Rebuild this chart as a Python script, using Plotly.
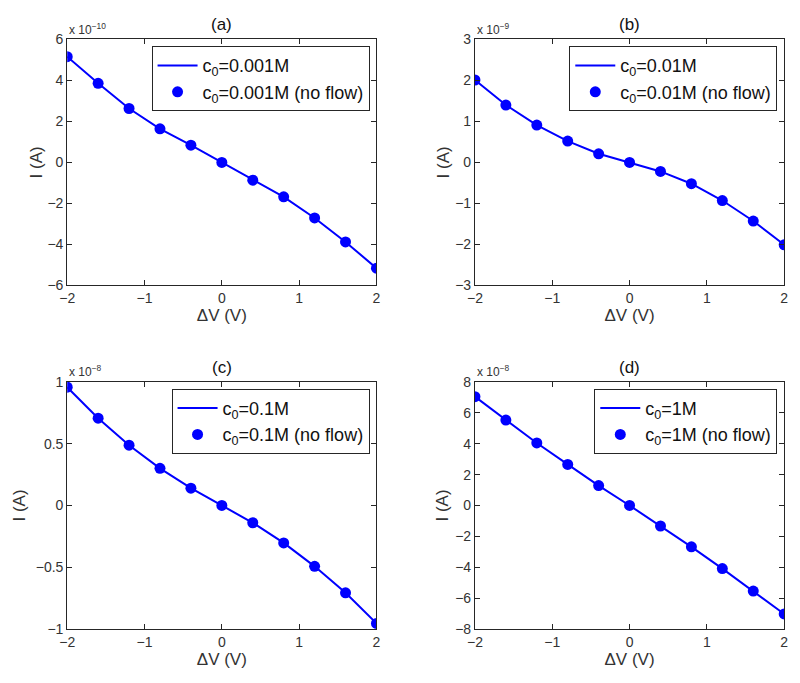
import plotly.graph_objects as go

# ---------------- data ----------------
dV = [-2.0, -1.6, -1.2, -0.8, -0.4, 0.0, 0.4, 0.8, 1.2, 1.6, 2.0]

# mantissas (current = value * 10**exponent A)
I_a_flow   = [5.16, 3.86, 2.63, 1.64, 0.84, 0.0, -0.87, -1.68, -2.71, -3.88, -5.16]
I_a_noflow = [5.16, 3.86, 2.63, 1.64, 0.84, 0.0, -0.87, -1.68, -2.71, -3.88, -5.16]
I_b_flow   = [2.01, 1.40, 0.91, 0.52, 0.21, 0.0, -0.22, -0.52, -0.93, -1.43, -2.01]
I_b_noflow = [2.01, 1.40, 0.91, 0.52, 0.21, 0.0, -0.22, -0.52, -0.93, -1.43, -2.01]
I_c_flow   = [0.958, 0.707, 0.488, 0.301, 0.140, 0.0, -0.140, -0.303, -0.493, -0.707, -0.955]
I_c_noflow = [0.958, 0.707, 0.488, 0.301, 0.140, 0.0, -0.140, -0.303, -0.493, -0.707, -0.955]
I_d_flow   = [7.05, 5.53, 4.05, 2.66, 1.29, 0.0, -1.33, -2.68, -4.09, -5.55, -7.03]
I_d_noflow = [7.05, 5.53, 4.05, 2.66, 1.29, 0.0, -1.33, -2.68, -4.09, -5.55, -7.03]

panel_titles = ["(a)", "(b)", "(c)", "(d)"]
concentrations = ["0.001M", "0.01M", "0.1M", "1M"]
exponents = [-10, -9, -8, -8]
y_ranges = [[-6, 6], [-3, 3], [-1, 1], [-8, 8]]
y_ticks = [[-6, -4, -2, 0, 2, 4, 6],
           [-3, -2, -1, 0, 1, 2, 3],
           [-1, -0.5, 0, 0.5, 1],
           [-8, -6, -4, -2, 0, 2, 4, 6, 8]]
y_ticktext = [["−6", "−4", "−2", "0", "2", "4", "6"],
              ["−3", "−2", "−1", "0", "1", "2", "3"],
              ["−1", "−0.5", "0", "0.5", "1"],
              ["−8", "−6", "−4", "−2", "0", "2", "4", "6", "8"]]
x_ticks = [-2, -1, 0, 1, 2]
x_ticktext = ["−2", "−1", "0", "1", "2"]

flows = [I_a_flow, I_b_flow, I_c_flow, I_d_flow]
noflows = [I_a_noflow, I_b_noflow, I_c_noflow, I_d_noflow]

# ---------------- layout geometry (page pixels) ----------------
# the page body keeps its default 8px margin, so the figure is sized to fill
# exactly the 800x683 window from (8, 8)
OFF = 8
W, H = 800 - OFF, 683 - 2 * OFF
# plot boxes in page pixels: left, right, top, bottom
boxes = [(60, 374, 32, 284), (474, 788, 32, 284),
         (60, 374, 383, 636), (474, 788, 383, 636)]
ytitle_standoff = [0, 1, 5, 2]


def px(x):
    return (x - OFF) / W


def py(y):
    return 1 - (y - OFF) / H


BLUE = "#0000ff"
AX = "#262626"
TXT = "#333333"
FONT = "Liberation Sans, Arial, Helvetica, sans-serif"

fig = go.Figure()
layout = dict(
    width=W, height=H,
    margin=dict(l=0, r=0, t=0, b=0),
    paper_bgcolor="white", plot_bgcolor="white",
    font=dict(family=FONT, color=TXT, size=14),
    annotations=[],
)

for k in range(4):
    sfx = "" if k == 0 else str(k + 1)
    xa, ya = "x" + sfx, "y" + sfx
    leg = "legend" + sfx
    l, r, t, b = boxes[k]
    fig.add_trace(go.Scatter(
        x=dV, y=flows[k], mode="lines",
        line=dict(color=BLUE, width=2),
        name="c<sub>0</sub>=" + concentrations[k],
        legendgroup="g%d_flow" % k,
        xaxis=xa, yaxis=ya, legend=leg))
    fig.add_trace(go.Scatter(
        x=dV, y=noflows[k], mode="markers",
        marker=dict(color=BLUE, size=11, symbol="circle"),
        name="c<sub>0</sub>=" + concentrations[k] + " (no flow)",
        legendgroup="g%d_noflow" % k,
        xaxis=xa, yaxis=ya, legend=leg))

    axis_common = dict(
        showline=True, linecolor=AX, linewidth=1, mirror="allticks",
        ticks="inside", ticklen=5, tickwidth=1, tickcolor=AX,
        showgrid=False, zeroline=False,
        tickfont=dict(size=14, color=TXT, family=FONT),
    )
    layout["xaxis" + sfx] = dict(
        axis_common,
        domain=[px(l), px(r)], anchor=ya, range=[-2, 2],
        tickvals=x_ticks, ticktext=x_ticktext,
        title=dict(text="ΔV (V)", font=dict(size=17, color=TXT, family=FONT), standoff=2),
    )
    layout["yaxis" + sfx] = dict(
        axis_common,
        domain=[py(b), py(t)], anchor=xa, range=y_ranges[k],
        tickvals=y_ticks[k], ticktext=y_ticktext[k],
        title=dict(text="I (A)", font=dict(size=17, color=TXT, family=FONT),
                   standoff=ytitle_standoff[k]),
    )
    layout[leg] = dict(
        x=px(r - 7), y=py(t + 7), xanchor="right", yanchor="top",
        xref="paper", yref="paper",
        bgcolor="white", bordercolor=AX, borderwidth=1,
        font=dict(size=18, color="#111111", family=FONT),
        itemwidth=40, tracegroupgap=8, traceorder="normal",
    )
    layout["annotations"].append(dict(
        text=panel_titles[k], xref="paper", yref="paper",
        x=px((l + r) / 2), y=py(t - 15), xanchor="center", yanchor="middle",
        showarrow=False, font=dict(size=17, color="#111111", family=FONT)))
    layout["annotations"].append(dict(
        text="x 10<sup>−%d</sup>" % abs(exponents[k]),
        xref="paper", yref="paper",
        x=px(l), y=py(t - 11), xanchor="left", yanchor="middle",
        showarrow=False, font=dict(size=12, color=TXT, family=FONT)))

fig.update_layout(**layout)
fig.write_html("out.html", config={"displayModeBar": False})
